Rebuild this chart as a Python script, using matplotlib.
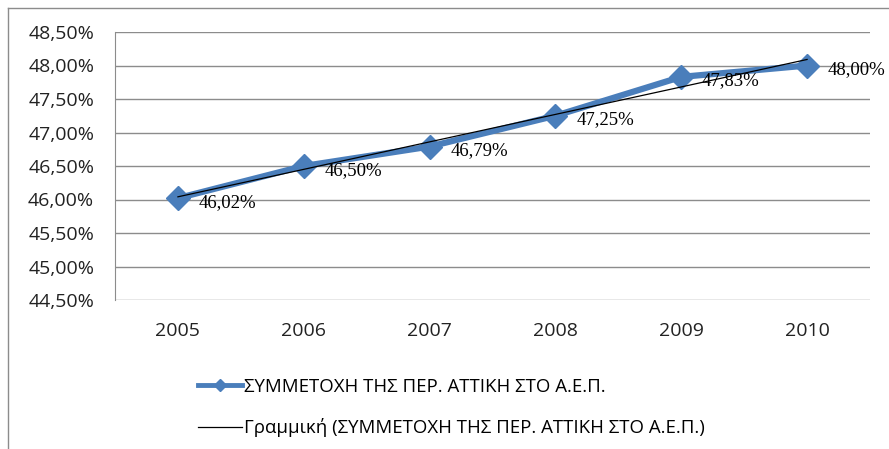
import matplotlib.pyplot as plt
import numpy as np
from matplotlib.lines import Line2D
from matplotlib.ticker import FuncFormatter, MultipleLocator

years = ["2005", "2006", "2007", "2008", "2009", "2010"]
share = [46.02, 46.50, 46.79, 47.25, 47.83, 48.00]
series_label = "ΣΥΜΜΕΤΟΧΗ ΤΗΣ ΠΕΡ. ΑΤΤΙΚΗ ΣΤΟ Α.Ε.Π."
trend_label = "Γραμμική (ΣΥΜΜΕΤΟΧΗ ΤΗΣ ΠΕΡ. ΑΤΤΙΚΗ ΣΤΟ Α.Ε.Π.)"

blue = "#4A7EBB"
grid = "#8C8C8C"

def pct(v, _pos=None):
    return f"{v:.2f}%".replace(".", ",")

fig = plt.figure(figsize=(8.89, 4.49), dpi=100)
# chart frame, only top and left edges are visible in the crop
fig.add_artist(Line2D([8 / 889, 1], [1 - 8 / 449, 1 - 8 / 449],
                      transform=fig.transFigure, color=grid, linewidth=1))
fig.add_artist(Line2D([8 / 889, 8 / 889], [0, 1 - 8 / 449],
                      transform=fig.transFigure, color=grid, linewidth=1))

ax = fig.add_axes([115 / 889, 1 - 300 / 449, 755 / 889, 268 / 449])
x = np.arange(len(years))

# linear trend line fitted to the series
coef = np.polyfit(x, share, 1)
trend_x = np.array([x[0], x[-1]])

ax.plot(x, share, color=blue, linewidth=4.5, marker="D", markersize=12,
        markeredgecolor=blue, zorder=3)
ax.plot(trend_x, np.polyval(coef, trend_x), color="black",
        linewidth=0.9, zorder=4)

for xi, v in zip(x, share):
    ax.annotate(pct(v), (xi, v), xytext=(15, -3), textcoords="offset points",
                ha="left", va="center", fontsize=13.5,
                family="Liberation Serif", zorder=5)

ax.set_xlim(-0.5, len(years) - 0.5)
ax.set_ylim(44.5, 48.5)
ax.yaxis.set_major_locator(MultipleLocator(0.5))
ax.yaxis.set_major_formatter(FuncFormatter(pct))
ax.set_xticks(x)
ax.set_xticklabels(years)
ax.tick_params(axis="both", length=0, labelsize=14, labelcolor="#222222")
ax.tick_params(axis="x", pad=16)
ax.tick_params(axis="y", pad=15)
for lbl in ax.get_xticklabels() + ax.get_yticklabels():
    lbl.set_family("Open Sans")

ax.grid(axis="y", color=grid, linewidth=1)
ax.set_axisbelow(True)
for side in ["top", "right", "bottom"]:
    ax.spines[side].set_visible(False)
ax.spines["left"].set_color(grid)

handles = [
    Line2D([], [], color=blue, linewidth=3.5, marker="D", markersize=6,
           markeredgecolor=blue, label=series_label),
    Line2D([], [], color="black", linewidth=0.9, label=trend_label),
]
fig.legend(handles=handles, loc="upper left",
           bbox_to_anchor=(198 / 889, 1 - 378 / 449), frameon=False,
           borderpad=0, borderaxespad=0,
           handlelength=2.35, handletextpad=0.1, labelspacing=1.2,
           prop={"family": "Open Sans", "size": 13.4})

fig.savefig("out.png", dpi=100)
